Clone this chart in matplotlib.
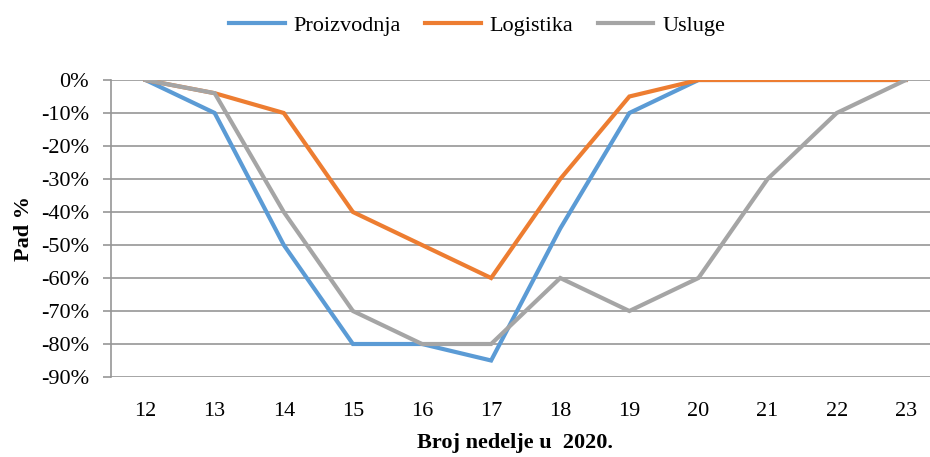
import matplotlib
matplotlib.use("Agg")
import matplotlib.pyplot as plt
from matplotlib.ticker import FuncFormatter

weeks = ["12", "13", "14", "15", "16", "17", "18", "19", "20", "21", "22", "23"]
proizvodnja = [0, -10, -50, -80, -80, -85, -45, -10, 0, 0, 0, 0]
logistika = [0, -4, -10, -40, -50, -60, -30, -5, 0, 0, 0, 0]
usluge = [0, -4, -40, -70, -80, -80, -60, -70, -60, -30, -10, 0]
yticks = list(range(-90, 1, 10))

plt.rcParams['font.family'] = ['Liberation Serif', 'DejaVu Serif']

fig = plt.figure(figsize=(9.3, 4.57), dpi=100)
ax = fig.add_axes([111/930, 1-377/457, 1-111/930, (377-80)/457])

x = list(range(len(weeks)))
ax.plot(x, proizvodnja, color='#5B9BD5', lw=3.0, label='Proizvodnja', solid_joinstyle='miter')
ax.plot(x, logistika, color='#ED7D31', lw=3.0, label='Logistika', solid_joinstyle='miter')
ax.plot(x, usluge, color='#A5A5A5', lw=3.0, label='Usluge', solid_joinstyle='miter')

ax.set_xlim(-0.5, 11.35)
ax.set_ylim(-90, 0)
ax.set_yticks(yticks)
ax.yaxis.set_major_formatter(FuncFormatter(lambda v, p: f"{int(round(v))}%"))
ax.set_xticks(x)
ax.set_xticklabels(weeks)
ax.grid(axis='y', color='#969696', lw=1.2)
ax.set_axisbelow(True)
for s in ['top', 'right', 'bottom']:
    ax.spines[s].set_visible(False)
ax.spines['left'].set_color('#969696')
ax.spines['left'].set_linewidth(1.2)
ax.tick_params(axis='y', length=6, color='#969696', width=1.2, labelsize=16, pad=10)
ax.tick_params(axis='x', length=0, labelsize=16, pad=18)
fig.text(0.554, 1-443/457, 'Broj nedelje u  2020.', fontsize=16, fontweight='bold',
         ha='center', va='center')
ax.set_ylabel('Pad %', fontsize=16, fontweight='bold', labelpad=5)

fig.legend(loc='upper center', bbox_to_anchor=(0.513, 1.01), ncol=3, frameon=False,
           fontsize=16, handlelength=2.5, columnspacing=1.1, handletextpad=0.4)

fig.savefig('out.png', dpi=100)
